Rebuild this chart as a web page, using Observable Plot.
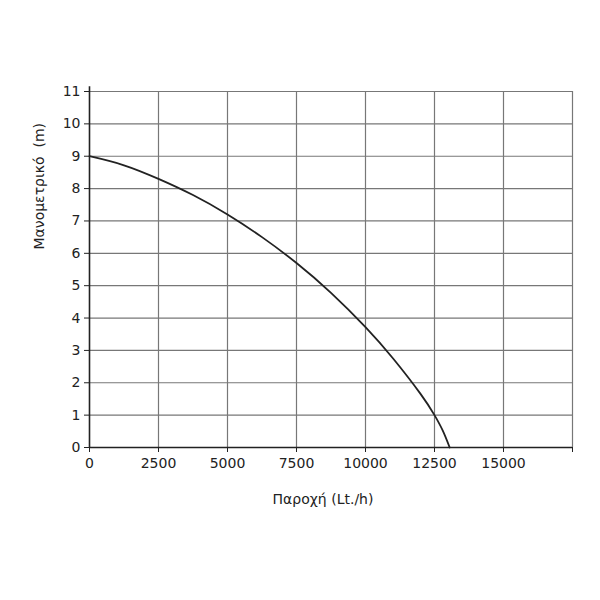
<!DOCTYPE html>
<html>
<head>
<meta charset="utf-8">
<script src="https://cdn.jsdelivr.net/npm/d3@7"></script>
<script src="https://cdn.jsdelivr.net/npm/@observablehq/plot@0.6"></script>
<style>
  html, body { margin: 0; padding: 0; background: #fff; }
  #chart { width: 600px; height: 600px; }
</style>
</head>
<body>
<div id="chart"></div>
<script>
// Curve: flow (Lt./h) vs head (m)
const flow = [0, 1250, 2500, 3750, 5000, 6250, 7500, 8750, 10000, 11000, 12000, 12500, 12800, 13050];
const head = [9, 8.72, 8.30, 7.80, 7.2, 6.5, 5.7, 4.78, 3.72, 2.75, 1.65, 1.0, 0.52, 0];

const xTicks = [0, 2500, 5000, 7500, 10000, 12500, 15000, 17500];
const xLabelTicks = [0, 2500, 5000, 7500, 10000, 12500, 15000];
const yTicks = [0, 1, 2, 3, 4, 5, 6, 7, 8, 9, 10, 11];
const xTitle = "Παροχή (Lt./h)";
const yTitle = "Μανομετρικό\u00a0\u00a0(m)";

const data = flow.map((f, i) => ({flow: f, head: head[i]}));

const chart = Plot.plot({
  width: 600,
  height: 600,
  marginLeft: 89,
  marginRight: 28,
  marginTop: 91,
  marginBottom: 153,
  style: {fontFamily: "DejaVu Sans", fontSize: "14px", color: "#222", background: "#fff"},
  x: {domain: [0, 17500]},
  y: {domain: [0, 11]},
  marks: [
    Plot.gridX(xTicks.filter(d => d > 0), {stroke: "#777", strokeOpacity: 1, strokeWidth: 1.2}),
    Plot.gridY(yTicks.filter(d => d > 0), {stroke: "#777", strokeOpacity: 1, strokeWidth: 1.2}),
    Plot.axisX(xTicks, {tickSize: 5, tickPadding: 6, stroke: "#222", fontSize: 14, tickFormat: d => xLabelTicks.includes(d) ? String(d) : "", label: null}),
    Plot.axisY(yTicks, {tickSize: 5, tickPadding: 4, stroke: "#222", fontSize: 14, tickFormat: d => String(d), label: null}),
    Plot.ruleY([0], {stroke: "#222", strokeWidth: 1.6}),
    Plot.ruleX([0], {y1: 0, y2: 11.15, stroke: "#222", strokeWidth: 1.6}),
    Plot.line(data, {x: "flow", y: "head", curve: "natural", stroke: "#222", strokeWidth: 1.8}),
    Plot.text([xTitle], {text: d => d, frameAnchor: "bottom", dy: 56, dx: -8, fontSize: 14, fill: "#222"}),
    Plot.text([yTitle], {text: d => d, frameAnchor: "left", rotate: -90, dx: -50, dy: -20, fontSize: 14, fill: "#222"})
  ]
});
document.getElementById("chart").appendChild(chart);
</script>
</body>
</html>
